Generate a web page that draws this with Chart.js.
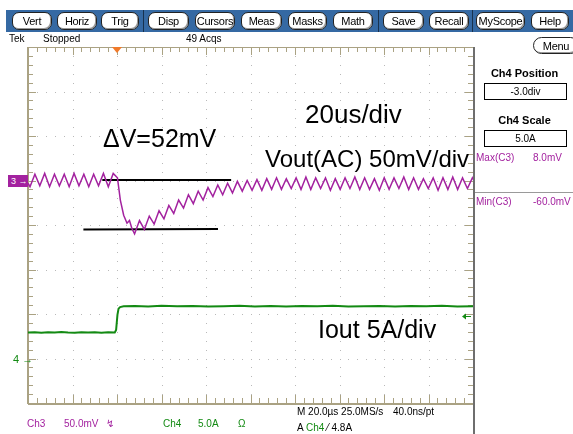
<!DOCTYPE html>
<html>
<head>
<meta charset="utf-8">
<script src="https://cdn.jsdelivr.net/npm/chart.js@4.4.1/dist/chart.umd.min.js"></script>
<style>
html, body { margin: 0; padding: 0; background: #fff; }
#wrap { position: relative; width: 573px; height: 434px; overflow: hidden; font-family: "Liberation Sans", Arial, sans-serif; }
#scope { position: absolute; left: 0; top: 0; }
.bar { position: absolute; left: 6px; top: 10px; width: 567px; height: 22px; background: #3569a3; }
.btn { position: absolute; top: 12px; height: 18px; box-sizing: border-box; background: #fff; border: 1px solid #222; border-radius: 7px; font-size: 11px; letter-spacing: -0.3px; line-height: 16px; text-align: center; color: #000; box-shadow: inset -1px -1px 0 #999; }
.sep { position: absolute; top: 10px; width: 1px; height: 22px; background: #17324f; }
.t { position: absolute; white-space: nowrap; font-size: 10px; line-height: 12px; color: #000; }
.p { color: #a3229f; }
.g { color: #138a13; }
.big { position: absolute; white-space: nowrap; color: #000; line-height: 1; }
.box { position: absolute; left: 484px; width: 83px; height: 17px; box-sizing: border-box; border: 1px solid #000; font-size: 10px; line-height: 15px; text-align: center; }
</style>
</head>
<body>
<div id="wrap">
  <canvas id="scope" width="573" height="434"></canvas>

  <!-- ✅ 上部のボタンバー -->
  <div class="bar"></div>
  <div class="btn" style="left:12px;width:40px">Vert</div>
  <div class="btn" style="left:57px;width:40px">Horiz</div>
  <div class="btn" style="left:101px;width:38px">Trig</div>
  <div class="sep" style="left:143px"></div>
  <div class="btn" style="left:148px;width:41px">Disp</div>
  <div class="btn" style="left:195px;width:40px">Cursors</div>
  <div class="btn" style="left:241px;width:41px">Meas</div>
  <div class="btn" style="left:288px;width:39px">Masks</div>
  <div class="btn" style="left:333px;width:40px">Math</div>
  <div class="sep" style="left:378px"></div>
  <div class="btn" style="left:383px;width:41px">Save</div>
  <div class="btn" style="left:429px;width:40px">Recall</div>
  <div class="sep" style="left:472px"></div>
  <div class="btn" style="left:476px;width:49px">MyScope</div>
  <div class="btn" style="left:531px;width:38px">Help</div>

  <div class="t" style="left:9px;top:33px">Tek</div>
  <div class="t" style="left:43px;top:33px">Stopped</div>
  <div class="t" style="left:186px;top:33px">49 Acqs</div>

  <!-- ✅ 右側パネル -->
  <div style="position:absolute;left:473px;top:47px;width:2px;height:387px;background:#6e6e6e"></div>
  <div class="btn" style="left:533px;top:37px;width:46px;height:17px;border-radius:9px">Menu</div>
  <div class="t" style="left:476px;top:67px;width:97px;text-align:center;font-weight:bold;font-size:11px">Ch4 Position</div>
  <div class="box" style="top:83px">-3.0div</div>
  <div class="t" style="left:476px;top:114px;width:97px;text-align:center;font-weight:bold;font-size:11px">Ch4 Scale</div>
  <div class="box" style="top:130px">5.0A</div>
  <div class="t p" style="left:476px;top:152px">Max(C3)</div>
  <div class="t p" style="left:533px;top:152px">8.0mV</div>
  <div style="position:absolute;left:475px;top:192px;width:98px;height:1px;background:#9a9a9a"></div>
  <div class="t p" style="left:476px;top:196px">Min(C3)</div>
  <div class="t p" style="left:533px;top:196px">-60.0mV</div>

  <!-- ✅ 左側のチャンネルマーカー -->
  <div style="position:absolute;left:8px;top:175px;width:20px;height:12px;background:#a3229f;color:#fff;font-size:9px;line-height:12px;padding-left:3px;box-sizing:border-box">3 &#8594;</div>
  <div class="t g" style="left:13px;top:353px;font-size:11px">4 &#8594;</div>

  <!-- ✅ 下部のステータス -->
  <div class="t p" style="left:27px;top:418px">Ch3</div>
  <div class="t p" style="left:64px;top:418px">50.0mV</div>
  <div class="t p" style="left:106px;top:418px">&#8623;</div>
  <div class="t g" style="left:163px;top:418px">Ch4</div>
  <div class="t g" style="left:198px;top:418px">5.0A</div>
  <div class="t g" style="left:238px;top:418px">&#937;</div>
  <div class="t" style="left:297px;top:406px">M 20.0&#181;s 25.0MS/s</div>
  <div class="t" style="left:393px;top:406px">40.0ns/pt</div>
  <div class="t" style="left:297px;top:422px">A <span class="g">Ch4</span> &#8260; 4.8A</div>

  <!-- ✅ 注釈テキスト -->
  <div class="big" style="left:103px;top:126px;font-size:25px">&#916;V=52mV</div>
  <div class="big" style="left:305px;top:101px;font-size:26px">20us/div</div>
  <div class="big" style="left:265px;top:147px;font-size:24px">Vout(AC) 50mV/div</div>
  <div class="big" style="left:318px;top:317px;font-size:25px">Iout 5A/div</div>
</div>

<script>
// ✅ Ch3 (Vout AC) : 時間 (µs) と 電圧 (mV)
const ch3Time = [
  -40, -39.1, -36.9, -34.7, -32.5, -30.3, -28.1, -25.9, -23.7, -21.5,
  -19.3, -17.1, -14.9, -12.7, -10.5, -8.3, -6.1, -3.9, -1.7, 0.2,
  1.5, 3.0, 4.5, 5.6, 6.7, 7.9, 10.1, 12.3, 14.5, 16.7,
  18.9, 21.1, 23.3, 25.5, 27.7, 29.9, 32.1, 34.3, 36.5, 38.7,
  40.9, 43.1, 45.3, 47.5, 49.7, 51.9, 54.1, 56.3, 58.5, 60.7,
  62.9, 65.1, 67.3, 69.5, 71.7, 73.9, 76.1, 78.3, 80.5, 82.7,
  84.9, 87.1, 89.3, 91.5, 93.7, 95.9, 98.1, 100.3, 102.5, 104.7,
  106.9, 109.1, 111.3, 113.5, 115.7, 117.9, 120.1, 122.3, 124.5, 126.7,
  128.9, 131.1, 133.3, 135.5, 137.7, 139.9, 142.1, 144.3, 146.5, 148.7,
  150.9, 153.1, 155.3, 157.5, 159.7, 160
];
const ch3mV = [
  -3, -7, 7, -6, 8, -7, 7, -6, 7, -7,
  8, -6, 7, -7, 7, -6, 8, -7, 8, 3,
  -22, -39, -48, -45, -54, -60, -45, -55, -40, -49,
  -34, -43, -28, -37, -22, -31, -16, -26, -12, -22,
  -8, -18, -5, -16, -3, -14, -1, -12, 0, -11,
  1, -11, 2, -10, 3, -10, 2, -9, 3, -10,
  4, -10, 3, -9, 3, -11, 2, -10, 3, -9,
  4, -10, 3, -10, 2, -11, 3, -10, 3, -9,
  4, -10, 3, -10, 2, -9, 3, -11, 3, -10,
  4, -10, 3, -9, 3, 1
];

// ✅ Ch4 (Iout) : 時間 (µs) と 電流 (A)
const ch4Time = [
  -40, -37, -34, -31, -28, -25, -22, -19, -16, -13, -10, -7, -4, -1,
  -0.4, 0.2, 0.7, 1.4,
  3, 8, 14, 20, 27, 34, 41, 48, 55, 62, 69, 76,
  83, 90, 97, 104, 111, 118, 125, 132, 139, 146, 153, 160
];
const ch4Amp = [
  2.92, 2.96, 2.90, 2.95, 2.91, 2.97, 2.92, 2.89, 2.95, 2.92, 2.96, 2.90, 2.94, 2.92,
  3.2, 4.9, 5.6, 5.78,
  5.86, 5.9, 5.84, 5.92, 5.86, 5.9, 5.83, 5.88, 5.92, 5.85, 5.89, 5.84,
  5.9, 5.87, 5.92, 5.85, 5.88, 5.9, 5.84, 5.89, 5.86, 5.92, 5.85, 5.88
];

// ✅ ΔV 測定用の補助線 (µs, mV)
const upperLineTime = [-6.6, 51.3];
const upperLineMv = [0.5, 0.5];
const lowerLineTime = [-15.1, 45.4];
const lowerLineMv = [-55.1, -54.5];

// ✅ トリガー (Ch4 4.8A)
const triggerTime = 0;
const triggerAmp = 4.8;

function toPoints(xs, ys) {
  return xs.map((x, i) => ({ x: x, y: ys[i] }));
}

// ✅ 目盛り (グラティクル) を描画するプラグイン
const graticule = {
  id: 'graticule',
  beforeDatasetsDraw(chart) {
    const ctx = chart.ctx;
    const a = chart.chartArea;
    const xs = chart.scales.x;
    const ys = chart.scales.y3;
    ctx.save();

    // 点線のグリッド
    ctx.fillStyle = '#b9b9b9';
    for (let t = -20; t < 160; t += 20) {
      const px = Math.round(xs.getPixelForValue(t));
      for (let v = -250; v <= 150; v += 10) {
        ctx.fillRect(px, Math.round(ys.getPixelForValue(v)), 1, 1);
      }
    }
    for (let v = -200; v < 150; v += 50) {
      const py = Math.round(ys.getPixelForValue(v));
      for (let t = -40; t <= 160; t += 4) {
        ctx.fillRect(Math.round(xs.getPixelForValue(t)), py, 1, 1);
      }
    }

    // 枠と目盛り
    ctx.fillStyle = '#aaa283';
    const L = Math.round(a.left), R = Math.round(a.right), T = Math.round(a.top), B = Math.round(a.bottom);
    ctx.fillRect(L, T, R - L + 1, 1);
    ctx.fillRect(L, B, R - L + 1, 2);
    ctx.fillRect(L - 1, T, 2, B - T + 1);
    ctx.fillRect(R, T, 1, B - T + 1);
    for (let t = -40; t <= 160; t += 4) {
      const px = Math.round(xs.getPixelForValue(t));
      const len = (t % 20 === 0) ? 8 : 5;
      ctx.fillRect(px, T, 1, len);
      ctx.fillRect(px, B - len, 1, len);
    }
    for (let v = -250; v <= 150; v += 10) {
      const py = Math.round(ys.getPixelForValue(v));
      const len = (v % 50 === 0) ? 8 : 5;
      ctx.fillRect(L, py, len, 1);
      ctx.fillRect(R - len, py, len, 1);
    }
    ctx.restore();
  },
  afterDatasetsDraw(chart) {
    const ctx = chart.ctx;
    const a = chart.chartArea;
    ctx.save();
    // トリガー位置 (オレンジの三角)
    const tx = chart.scales.x.getPixelForValue(triggerTime);
    ctx.fillStyle = '#f07a2a';
    ctx.beginPath();
    ctx.moveTo(tx - 5, a.top);
    ctx.lineTo(tx + 5, a.top);
    ctx.lineTo(tx, a.top + 6);
    ctx.closePath();
    ctx.fill();
    // トリガーレベル (緑の矢印)
    const ty = Math.round(chart.scales.y4.getPixelForValue(triggerAmp)) + 0.5;
    ctx.strokeStyle = '#138a13';
    ctx.fillStyle = '#138a13';
    ctx.lineWidth = 1;
    ctx.beginPath();
    ctx.moveTo(a.right - 2, ty);
    ctx.lineTo(a.right - 9, ty);
    ctx.stroke();
    ctx.beginPath();
    ctx.moveTo(a.right - 11, ty);
    ctx.lineTo(a.right - 7, ty - 3);
    ctx.lineTo(a.right - 7, ty + 3);
    ctx.closePath();
    ctx.fill();
    ctx.restore();
  }
};

new Chart(document.getElementById('scope'), {
  type: 'line',
  data: {
    datasets: [
      { data: toPoints(ch4Time, ch4Amp), yAxisID: 'y4', borderColor: '#138a13', borderWidth: 2, pointRadius: 0, tension: 0 },
      { data: toPoints(ch3Time, ch3mV), yAxisID: 'y3', borderColor: '#a3229f', borderWidth: 1.5, pointRadius: 0, tension: 0 },
      { data: toPoints(upperLineTime, upperLineMv), yAxisID: 'y3', borderColor: '#000', borderWidth: 2, pointRadius: 0 },
      { data: toPoints(lowerLineTime, lowerLineMv), yAxisID: 'y3', borderColor: '#000', borderWidth: 2, pointRadius: 0 }
    ]
  },
  options: {
    responsive: false,
    animation: false,
    devicePixelRatio: 1,
    layout: { padding: { left: 28, right: 100, top: 47, bottom: 31 } },
    plugins: { legend: { display: false }, tooltip: { enabled: false } },
    scales: {
      x: { type: 'linear', min: -40, max: 160, display: false },
      y3: { type: 'linear', min: -250, max: 150, display: false },
      y4: { type: 'linear', min: -5, max: 35, display: false }
    }
  },
  plugins: [graticule]
});
</script>
</body>
</html>
